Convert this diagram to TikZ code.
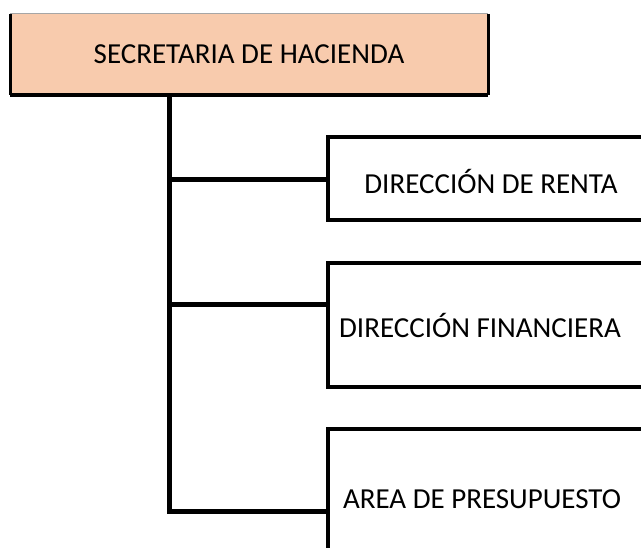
\documentclass[tikz,border=0pt]{standalone}
\usepackage{fontspec}
\setmainfont{Carlito}
\definecolor{peach}{HTML}{F8CBAD}
\begin{document}
\begin{tikzpicture}[x=1pt,y=-1pt,
  lbl/.style={font=\fontsize{29}{34}\selectfont, text=black},
  unitbox/.style={draw=black, line width=4pt, fill=white, inner sep=0pt, outer sep=0pt, lbl},
  conn/.style={draw=black, line width=5pt}]
\useasboundingbox (0,0) rectangle (641,548);
\clip (0,0) rectangle (641,548);
\fill[white] (0,0) rectangle (641,548);
% top box
\node[fill=peach, minimum width=478pt, minimum height=81pt, inner sep=0pt, outer sep=0pt, lbl] (sec) at (249,54.5) {SECRETARIA DE HACIENDA};
\draw[gray!70, line width=1pt] (sec.north west) -- (sec.north east);
\draw[black, line width=3pt] (sec.north west) -- (sec.south west);
\draw[black, line width=3pt] (sec.north east) -- (sec.south east);
\draw[black, line width=4pt] (sec.south west) -- (sec.south east);
% unit boxes
\node[unitbox, minimum width=316pt, minimum height=83pt] (b1) at (486,178.5) {};
\node[lbl] (t1) at (491,181) {DIRECCIÓN DE RENTA};
\node[unitbox, minimum width=316pt, minimum height=124pt] (b2) at (486,325) {};
\node[lbl] (t2) at (480,325) {DIRECCIÓN FINANCIERA};
\node[unitbox, minimum width=316pt, minimum height=140pt] (b3) at (486,499) {};
\node[lbl] (t3) at (482,499) {AREA DE PRESUPUESTO};
% connectors
\coordinate (j1) at (169,180);
\coordinate (j2) at (169,305);
\coordinate (j3) at (169,512);
\draw[conn] (sec.south -| j1) -- (j3) -- (j3 -| b3.west);
\draw[conn] (j1) -- (j1 -| b1.west);
\draw[conn] (j2) -- (j2 -| b2.west);
\end{tikzpicture}
\end{document}
